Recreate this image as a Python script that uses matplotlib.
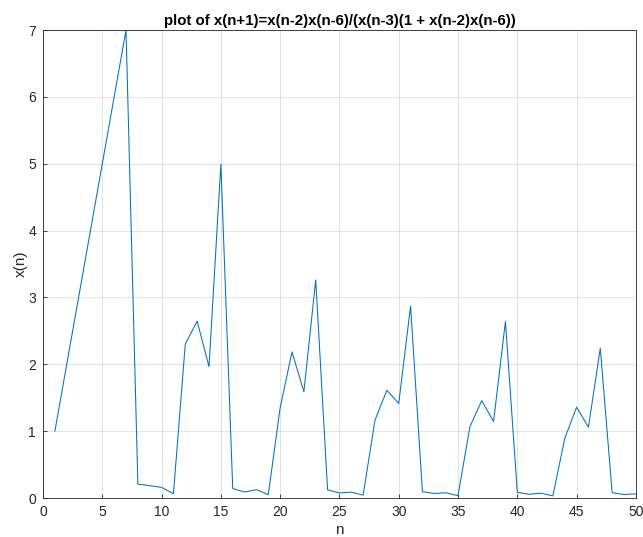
import numpy as np
import matplotlib.pyplot as plt

plt.rcParams['font.family'] = ['Liberation Sans', 'DejaVu Sans']

# x(n) for n = 1..50, starting from x(1..7) = 1..7
n = np.arange(1, 51)
x = [1, 2, 3, 4, 5, 6, 7,
     0.2083, 0.1846, 0.1591, 0.0649, 2.304, 2.6453, 1.9643, 4.9946,
     0.1424, 0.0900, 0.1247, 0.0495, 1.3503, 2.1857, 1.5890, 3.2607,
     0.1217, 0.0757, 0.0874, 0.0433, 1.1656, 1.6120, 1.4154, 2.8700,
     0.0933, 0.0683, 0.0781, 0.0342, 1.0635, 1.4573, 1.1434, 2.6413,
     0.0851, 0.0562, 0.0724, 0.0314, 0.8901, 1.3589, 1.0589, 2.2409,
     0.0798, 0.0524, 0.0621]

fig = plt.figure(figsize=(6.43, 5.37), dpi=100)
ax = fig.add_axes([0.0669, 0.0726, 0.922, 0.8714])

ax.plot(n, x, color='#0072BD', linewidth=0.75)

ax.set_xlim(0, 50)
ax.set_ylim(0, 7)
ax.set_xticks(np.arange(0, 51, 5))
ax.set_yticks(np.arange(0, 8, 1))
ax.grid(True, color='#262626', alpha=0.15, linewidth=0.6)
ax.tick_params(direction='in', length=3, width=0.6, colors='#262626',
               labelsize=10, pad=5, top=False, right=False)
for s in ax.spines.values():
    s.set_color('#262626')
    s.set_linewidth(0.6)

ax.set_xlabel('n', fontsize=11, color='#262626', labelpad=3)
ax.set_ylabel('x(n)', fontsize=11, color='#262626', labelpad=0)
ax.set_title('plot of x(n+1)=x(n-2)x(n-6)/(x(n-3)(1 + x(n-2)x(n-6))',
             fontsize=10.8, fontweight='bold', pad=4)

fig.savefig('out.png', dpi=100)
